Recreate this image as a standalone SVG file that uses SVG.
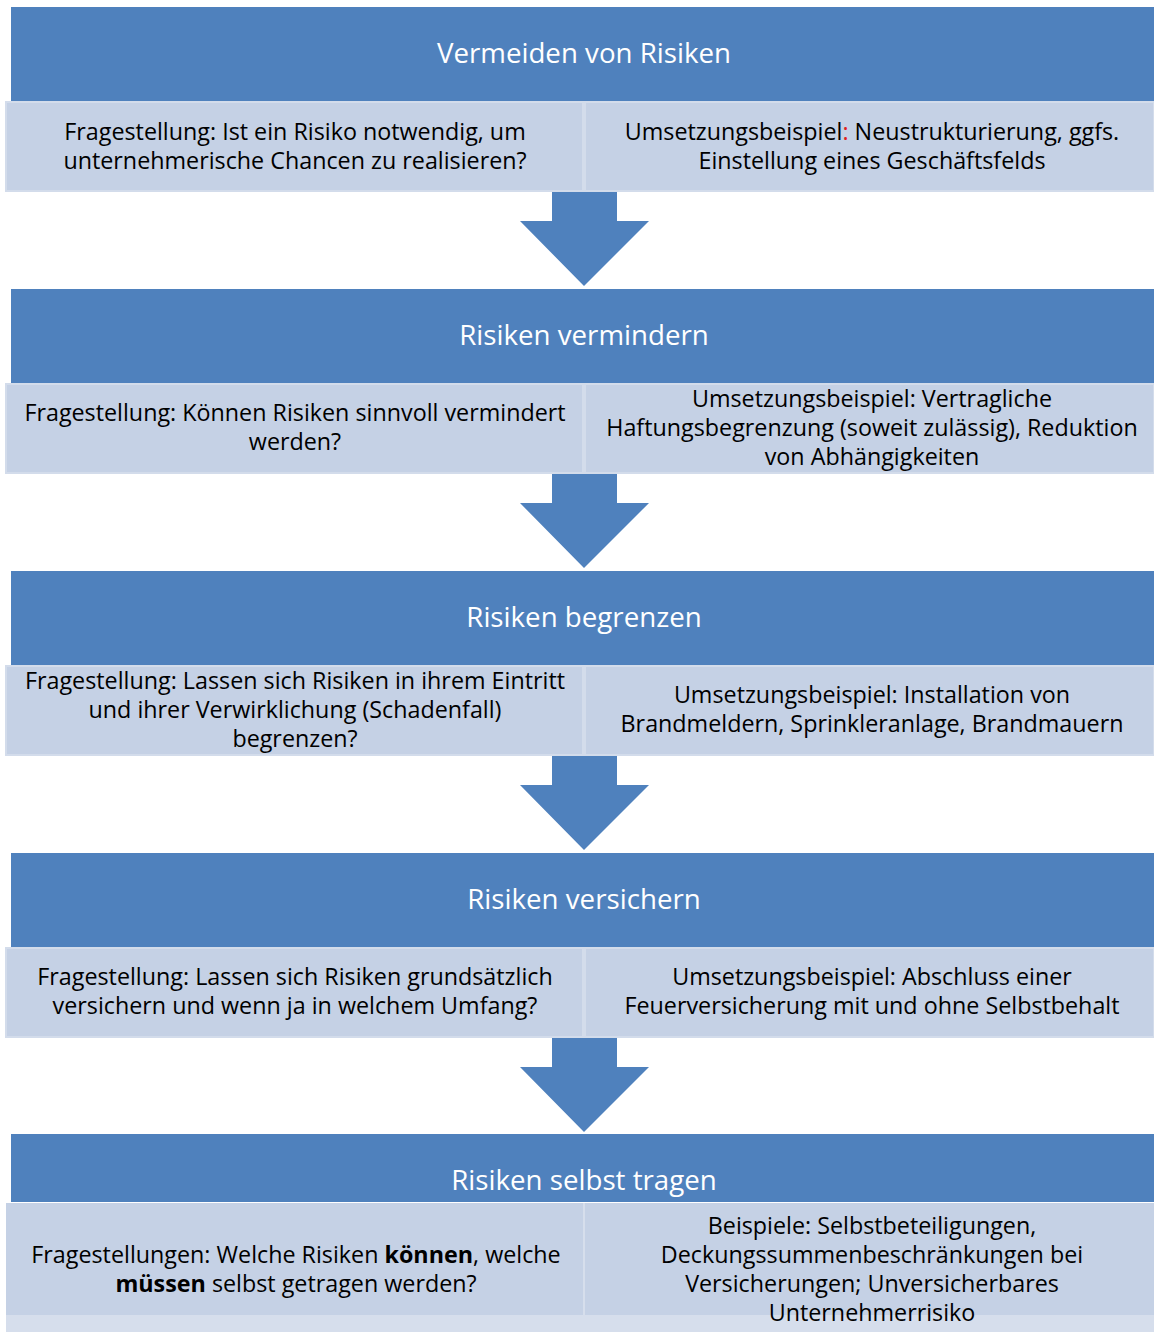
<svg xmlns="http://www.w3.org/2000/svg" width="1154" height="1332" viewBox="0 0 1154 1332">
<style>
.hd{fill:#4F81BD}
.bx{fill:#C5D1E5;stroke:#D3DCEB;stroke-width:2}
.ar{fill:#4F81BD}
.ht{font-family:"Open Sans","Liberation Sans",sans-serif;font-size:27.7px;fill:#FFFFFF;text-anchor:middle}
.bt{font-family:"Open Sans","Liberation Sans",sans-serif;font-size:23.3px;fill:#000000;text-anchor:middle}
.b{font-weight:bold}
</style>
<rect x="0" y="0" width="1154" height="1332" fill="#FFFFFF"/>
<g id="connectors">
<polygon class="ar" points="552,192 617,192 617,221 649,221 584,286 520,221 552,221"/>
<polygon class="ar" points="552,474 617,474 617,503 649,503 584,568 520,503 552,503"/>
<polygon class="ar" points="552,756 617,756 617,785 649,785 584,850 520,785 552,785"/>
<polygon class="ar" points="552,1038 617,1038 617,1067 649,1067 584,1132 520,1067 552,1067"/>
</g>
<g id="step1">
<rect class="hd" x="11" y="7" width="1143" height="94"/>
<text class="ht" x="584" y="63">Vermeiden von Risiken</text>
<rect class="bx" x="6" y="102" width="577" height="89"/>
<rect class="bx" x="585" y="102" width="569" height="89"/>
<text class="bt" x="295" y="140">Fragestellung: Ist ein Risiko notwendig, um</text>
<text class="bt" x="295" y="169">unternehmerische Chancen zu realisieren?</text>
<text class="bt" x="872" y="140">Umsetzungsbeispiel<tspan fill="#E0201B">:</tspan> Neustrukturierung, ggfs.</text>
<text class="bt" x="872" y="169">Einstellung eines Geschäftsfelds</text>
</g>
<g id="step2">
<rect class="hd" x="11" y="289" width="1143" height="94"/>
<text class="ht" x="584" y="345">Risiken vermindern</text>
<rect class="bx" x="6" y="384" width="577" height="89"/>
<rect class="bx" x="585" y="384" width="569" height="89"/>
<text class="bt" x="295" y="421">Fragestellung: Können Risiken sinnvoll vermindert</text>
<text class="bt" x="295" y="450">werden?</text>
<text class="bt" x="872" y="407">Umsetzungsbeispiel: Vertragliche</text>
<text class="bt" x="872" y="436">Haftungsbegrenzung (soweit zulässig), Reduktion</text>
<text class="bt" x="872" y="465">von Abhängigkeiten</text>
</g>
<g id="step3">
<rect class="hd" x="11" y="571" width="1143" height="94"/>
<text class="ht" x="584" y="627">Risiken begrenzen</text>
<rect class="bx" x="6" y="666" width="577" height="89"/>
<rect class="bx" x="585" y="666" width="569" height="89"/>
<text class="bt" x="295" y="689">Fragestellung: Lassen sich Risiken in ihrem Eintritt</text>
<text class="bt" x="295" y="718">und ihrer Verwirklichung (Schadenfall)</text>
<text class="bt" x="295" y="747">begrenzen?</text>
<text class="bt" x="872" y="703">Umsetzungsbeispiel: Installation von</text>
<text class="bt" x="872" y="732">Brandmeldern, Sprinkleranlage, Brandmauern</text>
</g>
<g id="step4">
<rect class="hd" x="11" y="853" width="1143" height="94"/>
<text class="ht" x="584" y="909">Risiken versichern</text>
<rect class="bx" x="6" y="948" width="577" height="89"/>
<rect class="bx" x="585" y="948" width="569" height="89"/>
<text class="bt" x="295" y="985">Fragestellung: Lassen sich Risiken grundsätzlich</text>
<text class="bt" x="295" y="1014">versichern und wenn ja in welchem Umfang?</text>
<text class="bt" x="872" y="985">Umsetzungsbeispiel: Abschluss einer</text>
<text class="bt" x="872" y="1014">Feuerversicherung mit und ohne Selbstbehalt</text>
</g>
<g id="step5">
<rect class="hd" x="11" y="1134" width="1143" height="68"/>
<text class="ht" x="584" y="1190">Risiken selbst tragen</text>
<rect x="6" y="1203" width="1148" height="129" fill="#D6DEEC"/>
<rect x="6" y="1203" width="577" height="112" fill="#C5D1E5"/>
<rect x="585" y="1203" width="569" height="112" fill="#C5D1E5"/>
<text class="bt" x="296" y="1263">Fragestellungen: Welche Risiken <tspan class="b">können</tspan>, welche</text>
<text class="bt" x="296" y="1292"><tspan class="b">müssen</tspan> selbst getragen werden?</text>
<text class="bt" x="872" y="1234">Beispiele: Selbstbeteiligungen,</text>
<text class="bt" x="872" y="1263">Deckungssummenbeschränkungen bei</text>
<text class="bt" x="872" y="1292">Versicherungen; Unversicherbares</text>
<text class="bt" x="872" y="1321">Unternehmerrisiko</text>
</g>
</svg>
